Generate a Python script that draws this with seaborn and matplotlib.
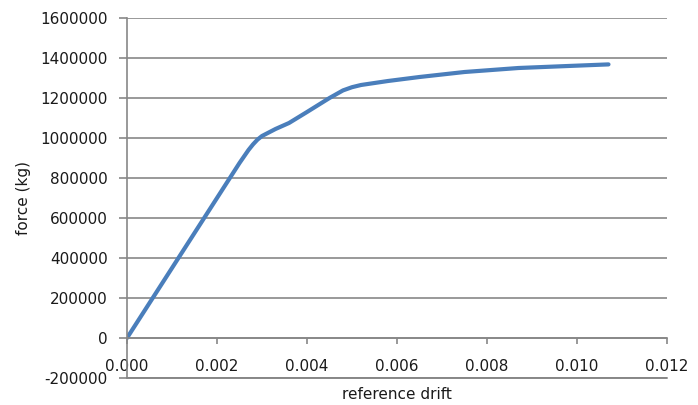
import matplotlib
matplotlib.use("Agg")
import matplotlib.pyplot as plt
import seaborn as sns
import pandas as pd
from matplotlib.ticker import FormatStrFormatter, MultipleLocator

drift = [0.0, 0.0010, 0.0020, 0.0025, 0.0027, 0.0028, 0.0029, 0.0030, 0.0033, 0.0036, 0.0040,
         0.0045, 0.0048, 0.0050, 0.0052, 0.0058, 0.0065, 0.0075, 0.0087, 0.0098, 0.0107]
force = [0, 350000, 700000, 875000, 940000, 968000, 992000, 1010000, 1045000, 1075000, 1130000,
         1200000, 1238000, 1254000, 1265000, 1285000, 1305000, 1330000, 1350000, 1360000, 1368000]

df = pd.DataFrame({"reference drift": drift, "force (kg)": force})

sns.set_style("white")
plt.rcParams['font.family'] = ['DejaVu Sans']

fig = plt.figure(figsize=(6.98, 4.05), dpi=100)
ax = fig.add_axes([127/698, 1-378/405, 540/698, 360/405])

sns.lineplot(data=df, x="reference drift", y="force (kg)", ax=ax,
             color="#4A7EBB", linewidth=3.0, sort=False)

ax.set_xlim(0, 0.012)
ax.set_ylim(-200000, 1600000)
ax.xaxis.set_major_locator(MultipleLocator(0.002))
ax.yaxis.set_major_locator(MultipleLocator(200000))
ax.xaxis.set_major_formatter(FormatStrFormatter('%.3f'))
ax.yaxis.set_major_formatter(FormatStrFormatter('%d'))

gray = "#878787"
ax.grid(axis='y', color=gray, linewidth=1.2)
ax.grid(axis='x', visible=False)
ax.set_axisbelow(True)
for s in ['top', 'right']:
    ax.spines[s].set_visible(False)
ax.spines['bottom'].set_position(('data', 0))
ax.spines['bottom'].set_color(gray)
ax.spines['left'].set_color(gray)
ax.spines['bottom'].set_linewidth(1.2)
ax.spines['left'].set_linewidth(1.2)
ax.axhline(-200000, color=gray, linewidth=1.4, clip_on=False, zorder=0)

ax.tick_params(axis='x', direction='out', length=4, width=1.2, color=gray,
               pad=11, labelsize=11, labelcolor="#1a1a1a", bottom=True)
ax.tick_params(axis='y', direction='out', length=6, width=1.2, color=gray,
               pad=8, labelsize=11, labelcolor="#1a1a1a", left=True)

ax.set_xlabel("reference drift", fontsize=11, color="#1a1a1a")
ax.set_ylabel("force (kg)", fontsize=11, color="#1a1a1a")
ax.xaxis.set_label_coords(0.5, -0.026)
ax.yaxis.set_label_coords(-0.178, 0.5)

fig.savefig("out.png", dpi=100)
